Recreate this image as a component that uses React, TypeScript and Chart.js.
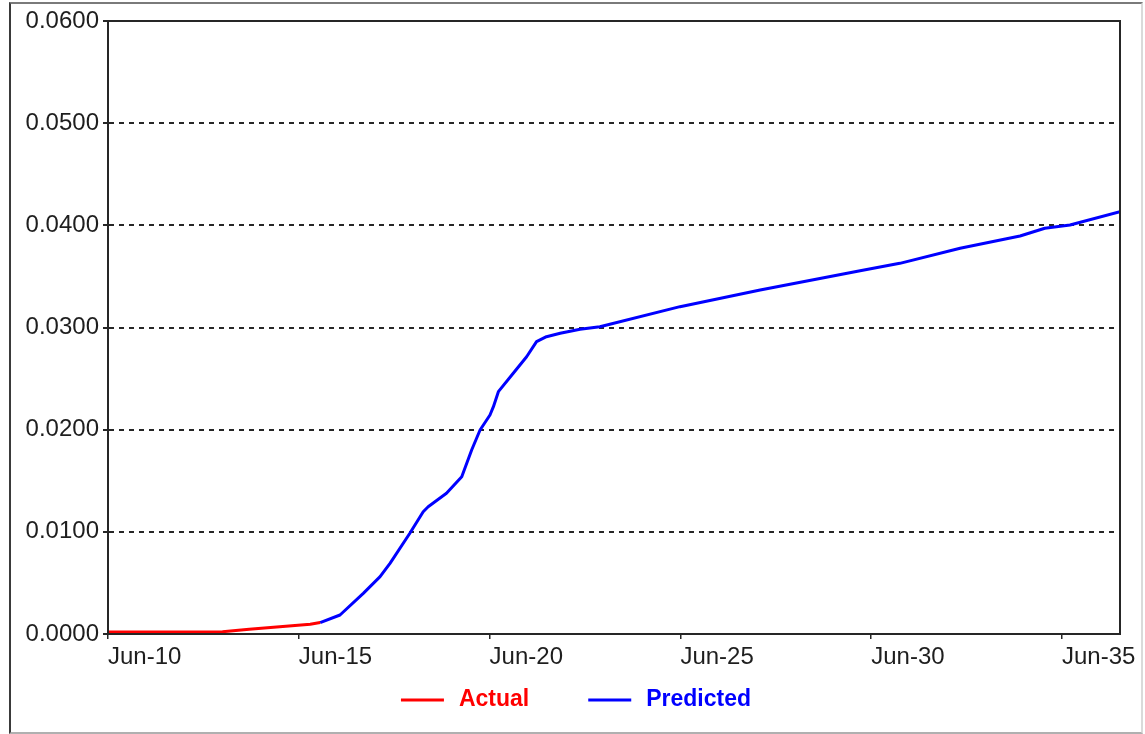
import React, { useEffect, useRef } from "react";
import { Chart, registerables } from "chart.js";

Chart.register(...registerables);

// ---- Data (x = year, where "Jun-YY" tick = year 20YY) ----
const ACTUAL_T = [2010.0, 2011.0, 2012.0, 2013.0, 2013.7, 2014.5, 2015.3, 2015.56];
const ACTUAL_V = [0.0002, 0.0002, 0.0002, 0.00023, 0.00046, 0.00071, 0.00095, 0.00112];

const PRED_T = [
  2015.56, 2016.08, 2016.69, 2017.13, 2017.39, 2017.91, 2018.26, 2018.39, 2018.87,
  2019.27, 2019.53, 2019.75, 2020.01, 2020.1, 2020.23, 2020.62, 2020.97, 2021.23,
  2021.49, 2021.85, 2022.37, 2022.89, 2024.99, 2027.09, 2029.71, 2030.75, 2032.33,
  2033.9, 2034.55, 2035.21, 2036.52,
];
const PRED_V = [
  0.00112, 0.00186, 0.00398, 0.00561, 0.00692, 0.00986, 0.01197, 0.01246, 0.01377,
  0.0154, 0.01801, 0.01997, 0.02144, 0.02225, 0.02372, 0.02552, 0.02714, 0.02861,
  0.0291, 0.02943, 0.02982, 0.03008, 0.03204, 0.03367, 0.03556, 0.03628, 0.03775,
  0.03896, 0.03971, 0.04003, 0.04133,
];

const X_MIN = 2010;
const X_MAX = 2036.52;
const X_TICKS = [2010, 2015, 2020, 2025, 2030, 2035];
const X_TICK_LABELS = ["Jun-10", "Jun-15", "Jun-20", "Jun-25", "Jun-30", "Jun-35"];

const Y_MIN = 0;
const Y_MAX = 0.06;
const Y_TICKS = [0, 0.01, 0.02, 0.03, 0.04, 0.05, 0.06];

const SERIES_NAMES = ["Actual", "Predicted"];
const SERIES_COLORS = ["#ff0000", "#0000ff"];

const FONT_FAMILY = 'Arial, "Liberation Sans", Helvetica, sans-serif';
const AXIS_COLOR = "#262626";

const framePlugin = {
  id: "plotFrame",
  afterDatasetsDraw(chart: any) {
    const { ctx, chartArea } = chart;
    ctx.save();
    ctx.strokeStyle = AXIS_COLOR;
    ctx.lineWidth = 2;
    ctx.setLineDash([]);
    ctx.strokeRect(
      chartArea.left,
      chartArea.top,
      chartArea.right - chartArea.left,
      chartArea.bottom - chartArea.top
    );
    ctx.restore();
  },
};

const legendPlugin = {
  id: "bottomLegend",
  afterDraw(chart: any) {
    const ctx = chart.ctx;
    ctx.save();
    ctx.font = `bold 23px ${FONT_FAMILY}`;
    const lineW = 43;
    const gapText = 15;
    const gapItem = 59;
    const items = chart.data.datasets.map((ds: any) => ({
      text: ds.label as string,
      color: ds.borderColor as string,
      w: ctx.measureText(ds.label).width,
    }));
    const total =
      items.reduce((s: number, it: any) => s + lineW + gapText + it.w, 0) +
      gapItem * (items.length - 1);
    let x = (chart.width - total) / 2;
    const y = chart.chartArea.bottom + 66;
    items.forEach((it: any) => {
      ctx.strokeStyle = it.color;
      ctx.lineWidth = 3;
      ctx.setLineDash([]);
      ctx.beginPath();
      ctx.moveTo(x, y);
      ctx.lineTo(x + lineW, y);
      ctx.stroke();
      ctx.fillStyle = it.color;
      ctx.textBaseline = "middle";
      ctx.textAlign = "left";
      ctx.fillText(it.text, x + lineW + gapText, y);
      x += lineW + gapText + it.w + gapItem;
    });
    ctx.restore();
  },
};

export default function App() {
  const canvasRef = useRef<HTMLCanvasElement | null>(null);

  useEffect(() => {
    if (!canvasRef.current) return;
    const chart = new Chart(canvasRef.current, {
      type: "line",
      data: {
        datasets: [
          {
            label: SERIES_NAMES[0],
            data: ACTUAL_T.map((t, i) => ({ x: t, y: ACTUAL_V[i] })),
            borderColor: SERIES_COLORS[0],
            backgroundColor: SERIES_COLORS[0],
            borderWidth: 3,
            pointRadius: 0,
            tension: 0,
            borderJoinStyle: "round",
          },
          {
            label: SERIES_NAMES[1],
            data: PRED_T.map((t, i) => ({ x: t, y: PRED_V[i] })),
            borderColor: SERIES_COLORS[1],
            backgroundColor: SERIES_COLORS[1],
            borderWidth: 3,
            pointRadius: 0,
            tension: 0,
            borderJoinStyle: "round",
          },
        ],
      },
      options: {
        animation: false,
        responsive: false,
        layout: { padding: { left: 0, top: 17, right: 21, bottom: 0 } },
        plugins: {
          legend: { display: false },
          tooltip: { enabled: false },
        },
        scales: {
          x: {
            type: "linear",
            min: X_MIN,
            max: X_MAX,
            afterBuildTicks: (scale: any) => {
              scale.ticks = X_TICKS.map((v) => ({ value: v }));
            },
            afterFit: (scale: any) => {
              scale.height = 98;
              scale.paddingLeft = 0;
              scale.paddingRight = 0;
            },
            grid: {
              drawOnChartArea: false,
              drawTicks: true,
              tickLength: 5,
              color: AXIS_COLOR,
              lineWidth: 1.5,
            },
            border: { display: true, color: AXIS_COLOR, width: 2 },
            ticks: {
              autoSkip: false,
              maxRotation: 0,
              minRotation: 0,
              align: "start",
              padding: 4,
              color: "#1e1e1e",
              font: { family: FONT_FAMILY, size: 24 },
              callback: (value: any) => {
                const i = X_TICKS.indexOf(Number(value));
                return i >= 0 ? X_TICK_LABELS[i] : "";
              },
            },
          },
          y: {
            type: "linear",
            min: Y_MIN,
            max: Y_MAX,
            afterBuildTicks: (scale: any) => {
              scale.ticks = Y_TICKS.map((v) => ({ value: v }));
            },
            afterFit: (scale: any) => {
              scale.width = 97;
              scale.paddingTop = 0;
              scale.paddingBottom = 0;
            },
            grid: {
              drawOnChartArea: true,
              drawTicks: true,
              tickLength: 5,
              color: AXIS_COLOR,
              lineWidth: 2,
            },
            border: { display: true, color: AXIS_COLOR, width: 2, dash: [5, 5] },
            ticks: {
              padding: 4,
              color: "#1e1e1e",
              font: { family: FONT_FAMILY, size: 24 },
              callback: (value: any) => Number(value).toFixed(4),
            },
          },
        },
      },
      plugins: [framePlugin, legendPlugin],
    } as any);
    return () => chart.destroy();
  }, []);

  return (
    <div
      style={{
        position: "absolute",
        left: 9,
        top: 2,
        width: 1134,
        height: 732,
        boxSizing: "border-box",
        borderTop: "2px solid #7a7a7a",
        borderLeft: "2px solid #3a3a3a",
        borderBottom: "2px solid #b0b0b0",
        borderRight: "2px solid #dadada",
        background: "#ffffff",
      }}
    >
      <canvas ref={canvasRef} width={1130} height={728} style={{ display: "block" }} />
    </div>
  );
}
